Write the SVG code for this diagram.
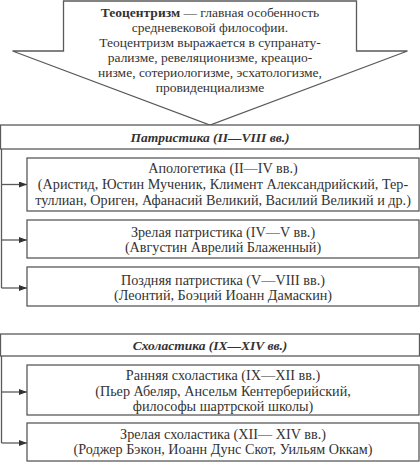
<svg xmlns="http://www.w3.org/2000/svg" width="420" height="463" viewBox="0 0 420 463">
<style>
.ln{fill:none;stroke:#5a5a5a;stroke-width:1.3}
.bx{fill:#fff;stroke:#5a5a5a;stroke-width:1.3}
text{font-family:"Liberation Serif","Times New Roman",serif;font-size:13.5px;fill:#333;text-anchor:middle}
.t{font-size:14.2px}
.h{font-weight:bold;font-style:italic}
.b{font-weight:bold}
</style>
<defs>
<marker id="ah" markerWidth="8" markerHeight="6" refX="8" refY="3" orient="auto" markerUnits="userSpaceOnUse">
<path d="M0,0 L8,3 L0,6 z" fill="#333"/>
</marker>
</defs>
<rect width="420" height="463" fill="#fff"/>
<g id="theocentrism">
<path class="bx" d="M63.5,1 H356.5 V51 H407.5 L210,125 L12.5,51 H63.5 Z"/>
<text x="210" y="17"><tspan class="b">Теоцентризм</tspan> — главная особенность</text>
<text x="210" y="32">средневековой философии.</text>
<text x="210" y="47">Теоцентризм выражается в супранату-</text>
<text x="210" y="62">рализме, ревеляционизме, креацио-</text>
<text x="210" y="77">низме, сотериологизме, эсхатологизме,</text>
<text x="210" y="92">провиденциализме</text>
</g>
<g id="patristics">
<rect class="bx" x="0.5" y="125" width="419" height="24"/>
<text class="h" x="210" y="141.5">Патристика (II—VIII вв.)</text>
</g>
<g id="apologetics">
<rect class="bx" x="27" y="158" width="392" height="53"/>
<text class="t" x="223" y="173">Апологетика (II—IV вв.)</text>
<text class="t" x="223" y="189">(Аристид, Юстин Мученик, Климент Александрийский, Тер-</text>
<text class="t" x="223" y="205">туллиан, Ориген, Афанасий Великий, Василий Великий и др.)</text>
</g>
<g id="mature-patristics">
<rect class="bx" x="27" y="220" width="392" height="38"/>
<text class="t" x="223" y="236.5">Зрелая патристика (IV—V вв.)</text>
<text class="t" x="223" y="251.5">(Августин Аврелий Блаженный)</text>
</g>
<g id="late-patristics">
<rect class="bx" x="27" y="267" width="392" height="39"/>
<text class="t" x="223" y="284.5">Поздняя патристика (V—VIII вв.)</text>
<text class="t" x="223" y="299.5">(Леонтий, Боэций Иоанн Дамаскин)</text>
</g>
<g id="scholasticism">
<rect class="bx" x="0.5" y="334" width="419" height="22"/>
<text class="h" x="210" y="349.5">Схоластика (IX—XIV вв.)</text>
</g>
<g id="early-scholasticism">
<rect class="bx" x="27" y="365" width="392" height="50"/>
<text class="t" x="223" y="380">Ранняя схоластика (IX—XII вв.)</text>
<text class="t" x="223" y="395.5">(Пьер Абеляр, Ансельм Кентерберийский,</text>
<text class="t" x="223" y="411">философы шартрской школы)</text>
</g>
<g id="mature-scholasticism">
<rect class="bx" x="27" y="423" width="392" height="38"/>
<text class="t" x="223" y="439">Зрелая схоластика (XII— XIV вв.)</text>
<text class="t" x="223" y="454">(Роджер Бэкон, Иоанн Дунс Скот, Уильям Оккам)</text>
</g>
<g id="connectors">
<path class="ln" d="M1.5,149 V288"/>
<path class="ln" d="M1.5,184.5 H27" marker-end="url(#ah)"/>
<path class="ln" d="M1.5,240 H27" marker-end="url(#ah)"/>
<path class="ln" d="M1.5,288 H27" marker-end="url(#ah)"/>
<path class="ln" d="M1.5,356 V443"/>
<path class="ln" d="M1.5,392 H27" marker-end="url(#ah)"/>
<path class="ln" d="M1.5,443 H27" marker-end="url(#ah)"/>
</g>
</svg>
